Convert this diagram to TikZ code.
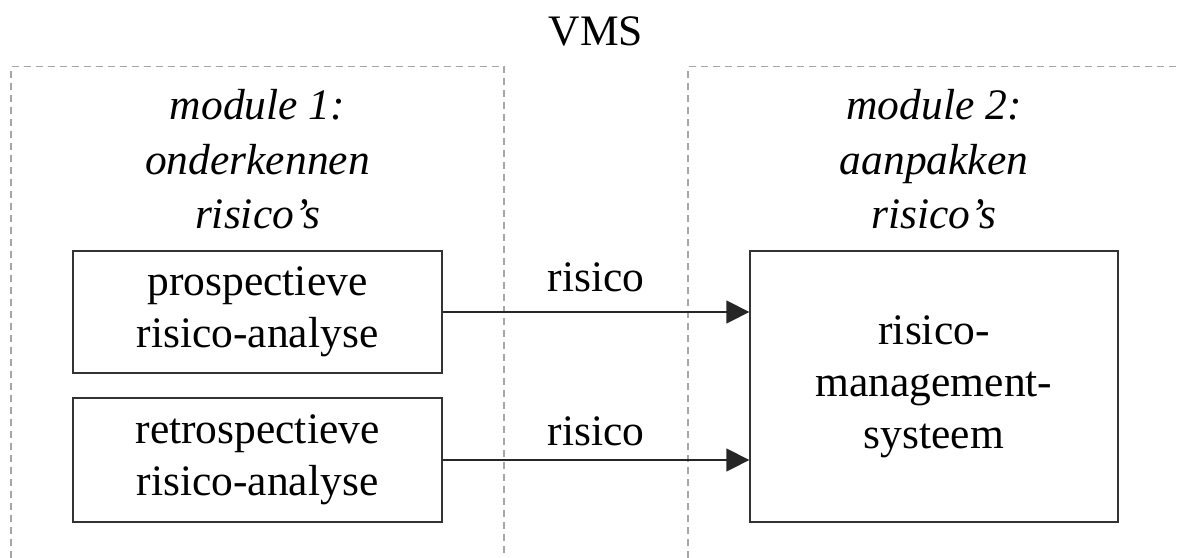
\documentclass[tikz,border=0pt]{standalone}
\usepackage{fontspec}
\setmainfont{Liberation Serif}
\usetikzlibrary{arrows.meta}
\begin{document}
\begin{tikzpicture}[x=1pt,y=-1pt,
  txt/.style={font=\fontsize{43.5}{52}\selectfont, inner sep=0pt, align=center},
  modtxt/.style={font=\fontsize{43.5}{54.5}\selectfont\itshape, inner sep=0pt, align=center, anchor=north},
  procbox/.style={draw=black!80, line width=1.3pt, font=\fontsize{43.5}{52}\selectfont, align=center, inner sep=0pt},
  frame/.style={draw=black!35, line width=1.5pt, dash pattern=on 7pt off 5pt},
  flow/.style={draw=black!85, line width=1.3pt, -{Triangle[length=23pt,width=23pt]}},
  lbl/.style={font=\fontsize{43.5}{52}\selectfont, inner sep=0pt, anchor=south}]
\useasboundingbox (0,0) rectangle (1177,557);
\clip (0,0) rectangle (1177,557);

% title
\node[txt, anchor=base] (vms) at (596,45) {VMS};

% module frames (open towards the page edges)
\coordinate (f1a) at (11,570);
\coordinate (f1b) at (11,66.7);
\coordinate (f1c) at (504,66.7);
\coordinate (f1d) at (504,570);
\draw[frame] (f1a) -- (f1b) -- (f1c) -- (f1d);
\coordinate (f2a) at (688,570);
\coordinate (f2b) at (688,66.7);
\coordinate (f2c) at (1190,66.7);
\draw[frame] (f2a) -- (f2b) -- (f2c);

% module headings
\node[modtxt] (m1) at (257.5,89.3) {module 1:\\onderkennen\\risico’s};
\node[modtxt] (m2) at (934,89.3) {module 2:\\aanpakken\\risico’s};

% process boxes
\node[procbox, minimum width=369pt, minimum height=122pt] (pa) at (257.5,312) {prospectieve\\risico-analyse};
\node[procbox, minimum width=369pt, minimum height=124pt] (ra) at (257.5,460) {retrospectieve\\risico-analyse};
\node[procbox, minimum width=368pt, minimum height=271pt] (rms) at (934,386.5) {risico-\\management-\\systeem};

% flows
\draw[flow] (pa.east) -- node[lbl, yshift=19pt] (l1) {risico} (pa.east -| rms.west);
\draw[flow] (ra.east) -- node[lbl, yshift=13pt] (l2) {risico} (ra.east -| rms.west);
\end{tikzpicture}
\end{document}
